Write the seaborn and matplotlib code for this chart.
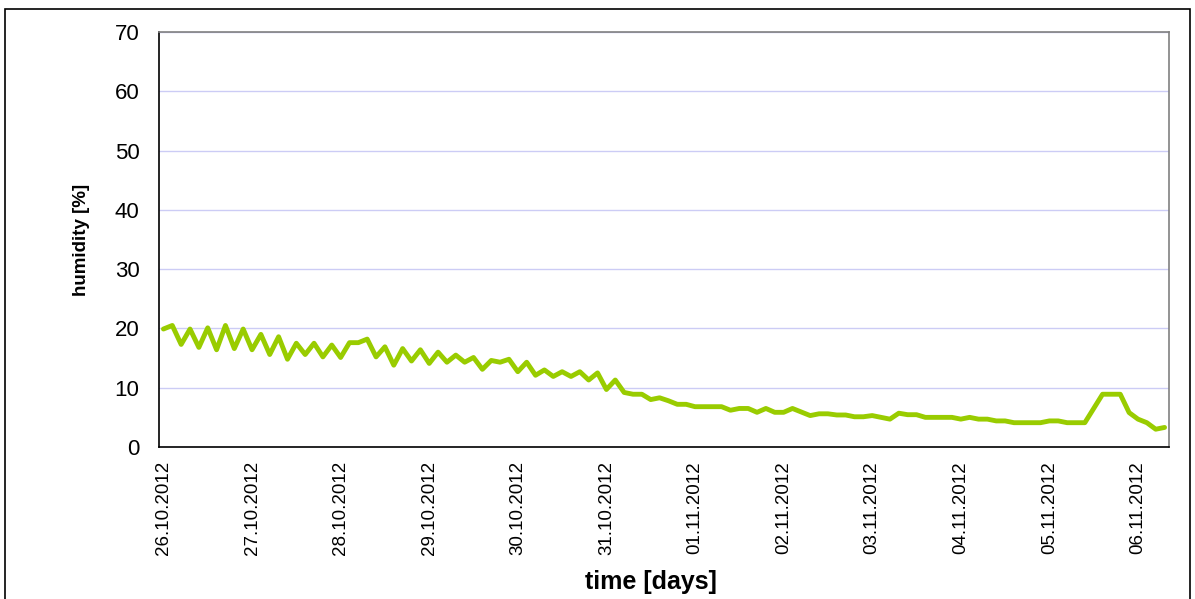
import pandas as pd
import seaborn as sns
import matplotlib.pyplot as plt
import matplotlib.dates as mdates
from matplotlib.patches import Rectangle

# humidity readings, one every 2.4 hours (10 per day)
start = "2012-10-26 00:00"
step = "144min"
humidity = [
    19.9, 20.5, 17.3, 19.9, 16.8, 20.1, 16.4, 20.5, 16.6, 19.9,
    16.4, 19.0, 15.6, 18.6, 14.8, 17.5, 15.6, 17.5, 15.2, 17.2,
    15.1, 17.6, 17.6, 18.2, 15.2, 16.9, 13.8, 16.6, 14.5, 16.4,
    14.1, 16.0, 14.3, 15.5, 14.3, 15.1, 13.1, 14.6, 14.3, 14.8,
    12.7, 14.3, 12.1, 13.0, 11.9, 12.7, 11.9, 12.7, 11.3, 12.5,
    9.7, 11.3, 9.2, 8.9, 8.9, 8.0, 8.3, 7.8, 7.2, 7.2,
    6.8, 6.8, 6.8, 6.8, 6.2, 6.5, 6.5, 5.85, 6.5, 5.85,
    5.85, 6.5, 5.9, 5.3, 5.6, 5.6, 5.4, 5.4, 5.1, 5.1,
    5.3, 5.0, 4.7, 5.7, 5.45, 5.45, 5.0, 5.0, 5.0, 5.0,
    4.7, 5.0, 4.7, 4.7, 4.4, 4.4, 4.1, 4.1, 4.1, 4.1,
    4.4, 4.4, 4.1, 4.1, 4.1, 6.5, 8.9, 8.9, 8.9, 5.8,
    4.7, 4.1, 3.0, 3.3,
]
y_ticks = [0, 10, 20, 30, 40, 50, 60, 70]

times = pd.date_range(start, periods=len(humidity), freq=step)
df = pd.DataFrame({"time": times, "humidity": humidity})

sns.set_style("white")
plt.rcParams["font.family"] = ["Liberation Sans", "DejaVu Sans"]
plt.rcParams["text.color"] = "black"
plt.rcParams["axes.labelcolor"] = "black"
plt.rcParams["xtick.color"] = "black"
plt.rcParams["ytick.color"] = "black"

fig = plt.figure(figsize=(11.95, 5.99), dpi=100)
ax = fig.add_axes([159 / 1195, 1 - 447 / 599, (1169 - 159) / 1195, (447 - 32) / 599])

sns.lineplot(data=df, x="time", y="humidity", color="#99cc00", linewidth=3.5, ax=ax)

half = pd.Timedelta(step) / 2
ax.set_xlim(times[0] - half, times[-1] + half)
ax.set_ylim(0, 70)
ax.set_yticks(y_ticks)
ax.yaxis.grid(True, color="#ccccf5", linewidth=1)
ax.set_axisbelow(True)

# day labels at the category centres, tick marks between categories
ax.xaxis.set_major_locator(mdates.DayLocator())
ax.xaxis.set_major_formatter(mdates.DateFormatter("%d.%m.%Y"))
bounds = list(times - half) + [times[-1] + half]
ax.xaxis.set_minor_locator(plt.FixedLocator(mdates.date2num(bounds)))
ax.tick_params(axis="x", which="major", length=0, pad=10, labelsize=13.5, labelrotation=90)
ax.tick_params(axis="x", which="minor", length=5, width=1, color="black", direction="out")
ax.tick_params(axis="y", length=6, width=1, color="black", direction="out", pad=8, labelsize=16)
for lab in ax.get_xticklabels():
    lab.set_verticalalignment("top")

for side in ["left", "bottom"]:
    ax.spines[side].set_color("black")
    ax.spines[side].set_linewidth(1.2)
for side in ["top", "right"]:
    ax.spines[side].set_color("#808080")
    ax.spines[side].set_linewidth(1.2)

ax.set_xlabel("time [days]", fontsize=18, fontweight="bold")
ax.xaxis.set_label_coords(0.487, -0.297)
ax.set_ylabel("humidity [%]", fontsize=13.5, fontweight="bold", labelpad=18)

# chart area border
fig.patches.append(Rectangle((4.5 / 1195, -0.02), (1190 - 4.5) / 1195, 1 - 8.5 / 599 + 0.02,
                             transform=fig.transFigure, fill=False, edgecolor="black", linewidth=1.2))

fig.savefig("out.png", dpi=100)
